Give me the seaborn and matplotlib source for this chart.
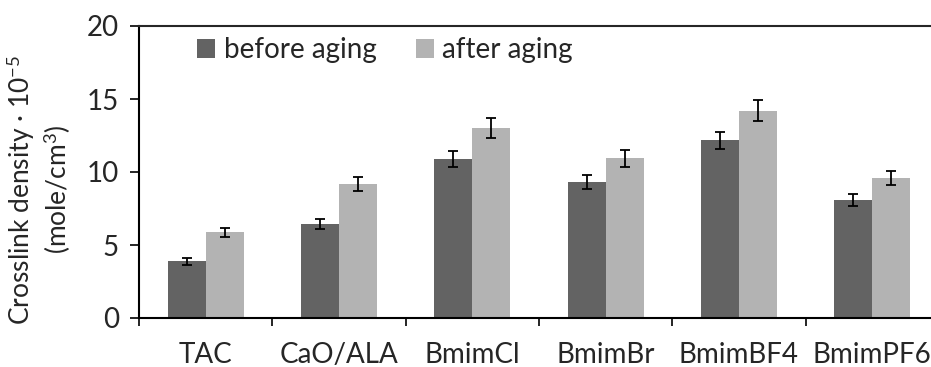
import matplotlib
matplotlib.use("Agg")
import matplotlib.pyplot as plt
import seaborn as sns
import pandas as pd
import numpy as np

categories = ["TAC", "CaO/ALA", "BmimCl", "BmimBr", "BmimBF4", "BmimPF6"]
series_names = ["before aging", "after aging"]
before_vals = [3.88, 6.44, 10.87, 9.29, 12.17, 8.06]
after_vals = [5.87, 9.18, 13.01, 10.93, 14.18, 9.59]
before_err = [0.23, 0.35, 0.56, 0.48, 0.60, 0.42]
after_err = [0.32, 0.48, 0.67, 0.56, 0.72, 0.50]
yticks = [0, 5, 10, 15, 20]
colors = ["#636363", "#b3b3b3"]

sns.set_style("white")
plt.rcParams["font.family"] = ["Lato", "DejaVu Sans"]
plt.rcParams["mathtext.fontset"] = "custom"
plt.rcParams["mathtext.rm"] = "Lato"
plt.rcParams["mathtext.it"] = "Lato:italic"
plt.rcParams["mathtext.bf"] = "Lato:bold"

df = pd.DataFrame({
    "category": categories * 2,
    "series": [series_names[0]] * len(categories) + [series_names[1]] * len(categories),
    "value": before_vals + after_vals,
})

fig = plt.figure(figsize=(9.31, 3.67), dpi=100)
ax = fig.add_axes([139 / 931, 49 / 367, 800 / 931, 292 / 367])

sns.barplot(data=df, x="category", y="value", hue="series", order=categories,
            hue_order=series_names, palette=colors, width=0.57, errorbar=None,
            ax=ax, legend=True, edgecolor="none", linewidth=0, saturation=1)

for cont, errs in zip(ax.containers, [before_err, after_err]):
    xs = [p.get_x() + p.get_width() / 2 for p in cont.patches]
    hs = [p.get_height() for p in cont.patches]
    ax.errorbar(xs, hs, yerr=errs, fmt="none", ecolor="black", elinewidth=1.3,
                capsize=3.6, capthick=1.3, zorder=5)

fs = 20
ax.set_xlim(-0.5, len(categories) - 0.5)
ax.set_ylim(0, 20)
ax.set_yticks(yticks)
ax.set_yticklabels([str(t) for t in yticks], fontsize=fs)
ax.set_xticks(range(len(categories)))
ax.set_xticklabels(categories, fontsize=fs)
ax.set_xticks(np.arange(-0.5, len(categories), 1.0), minor=True)
ax.tick_params(axis="x", which="major", length=0, pad=17)
ax.tick_params(axis="x", which="minor", length=6, width=1.2, direction="out", bottom=True, color="black")
ax.tick_params(axis="y", which="major", length=6.5, width=1.2, direction="out", left=True, color="black", pad=8)
ax.set_xlabel("")
ax.set_ylabel("Crosslink density · 10$^{\\mathrm{-5}}$\n(mole/cm$^{\\mathrm{3}}$)", fontsize=19,
              linespacing=1.2)
ax.yaxis.set_label_coords(-0.083, 0.44)

for s in ["left", "bottom", "top"]:
    ax.spines[s].set_visible(True)
    ax.spines[s].set_color("black")
    ax.spines[s].set_linewidth(1.5)
ax.spines["right"].set_visible(False)
ax.spines["top"].set_color("#262626")

ax.legend(loc="upper left", bbox_to_anchor=(0.059, 0.999), ncol=2, frameon=False,
          fontsize=fs, handlelength=0.65, handleheight=0.65, handletextpad=0.3,
          columnspacing=1.42, borderaxespad=0)

fig.savefig("out.png", dpi=100)
